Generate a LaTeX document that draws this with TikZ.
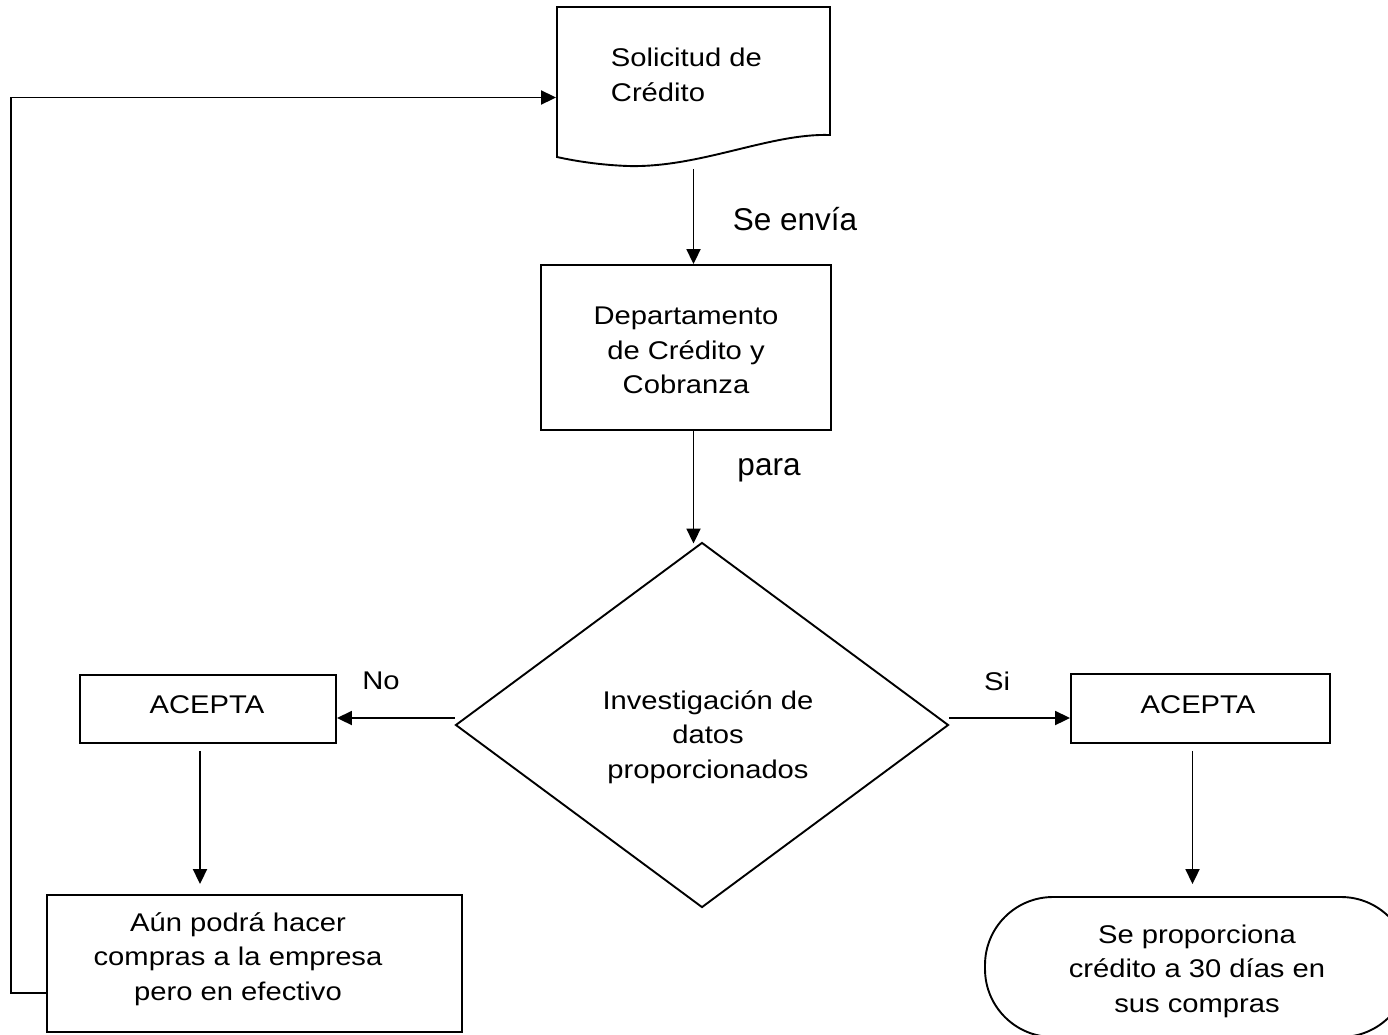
\documentclass[tikz,border=0pt]{standalone}
\usepackage{fontspec}
\setmainfont{Liberation Sans}[FakeStretch=1.14]
\newfontfamily\lblfont{Liberation Sans}
\usetikzlibrary{shapes.geometric,arrows.meta}
\begin{document}
\begin{tikzpicture}[x=1pt,y=-1pt,
  line width=1.9pt,
  ntxt/.style={font=\fontsize{25.6}{34.5}\selectfont, align=center, inner sep=0pt},
  ltxt/.style={font=\lblfont\fontsize{31.5}{36}\selectfont, inner sep=0pt},
  boxn/.style={draw, rectangle, inner sep=0pt},
  arr/.style={-{Triangle[length=15pt,width=14pt]}}
]
\useasboundingbox (0,0) rectangle (1388,1034);
% document shape
\node[inner sep=0pt, minimum width=273pt, minimum height=161pt] (doc) at (693.5,87.5) {};
\draw (557,7) -- (830,7) -- (830,135)
  .. controls (770,133) and (700,168) .. (628,166)
  .. controls (600,165) and (575,161) .. (557,157) -- cycle;
\node[ntxt, align=left, anchor=west] (doct) at (610,75) {Solicitud de\\Crédito};
% departamento
\node[boxn, minimum width=290pt, minimum height=165pt] (dep) at (686,347.5) {};
\node[ntxt] (dept) at (686,350.5) {Departamento\\de Crédito y\\Cobranza};
% diamond
\node[draw, diamond, minimum width=493pt, minimum height=365pt, inner sep=0pt] (inv) at (702,725) {};
\node[ntxt] (invt) at (708,737) {Investigación de\\datos\\proporcionados};
% ACEPTA boxes
\node[boxn, minimum width=256pt, minimum height=68pt] (acL) at (208,709) {};
\node[ntxt] (acLt) at (207,705) {ACEPTA};
\node[boxn, minimum width=259pt, minimum height=69pt] (acR) at (1200.5,708.5) {};
\node[ntxt] (acRt) at (1198,705) {ACEPTA};
% bottom-left box
\node[boxn, minimum width=415pt, minimum height=137pt] (aun) at (254.5,963.5) {};
\node[ntxt] (aunt) at (238,959) {Aún podrá hacer\\compras a la empresa\\pero en efectivo};
% terminal
\node[draw, rectangle, rounded corners=68pt, minimum width=424pt, minimum height=140pt] (term) at (1197,967) {};
\node[ntxt] (termt) at (1197,971) {Se proporciona\\crédito a 30 días en\\sus compras};
% labels
\node[ltxt] (lse) at (795,219) {Se envía};
\node[ltxt] (lpara) at (769,470) {para};
\node[ntxt] (lno) at (381,681) {No};
\node[ntxt] (lsi) at (997,681) {Si};
% connectors
\draw[arr] (doc.south) -- (doc.south |- dep.north);
\draw[arr] (dep.south -| doc.south) -- ([yshift=-2pt]inv.north -| doc.south);
\draw[arr] ([yshift=7pt]inv.west) -- ([yshift=7pt]inv.west -| acL.east);
\draw[arr] ([yshift=7pt]inv.east) -- ([yshift=7pt]inv.east -| acR.west);
\draw[arr, shorten <=7pt, shorten >=10pt] ([xshift=-8pt]acL.south) -- ([xshift=-8pt]acL.south |- aun.north);
\draw[arr, shorten <=7pt, shorten >=12pt] ([xshift=-8pt]acR.south) -- ([xshift=-8pt]acR.south |- term.north);
\draw[arr] ([yshift=-29.5pt]aun.west) -- ++(-35,0) |- ([yshift=-10pt]doc.west);
\end{tikzpicture}
\end{document}
